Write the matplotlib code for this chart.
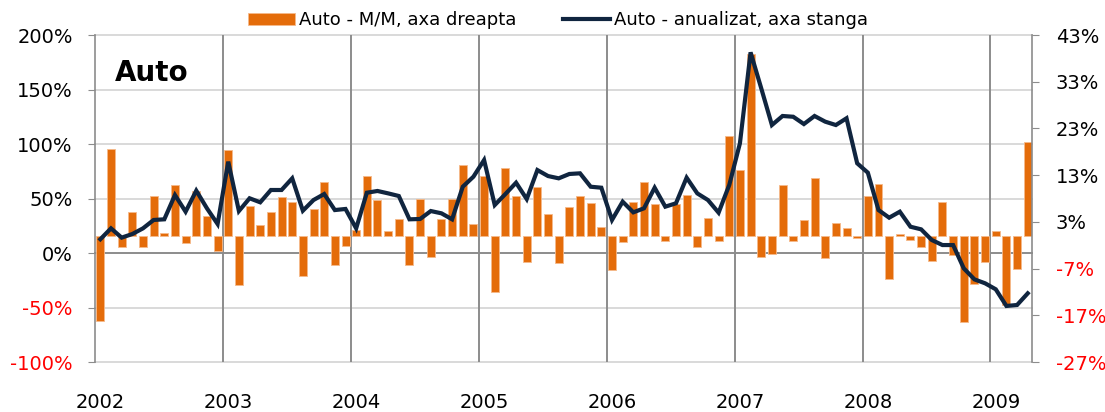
import numpy as np
import matplotlib
matplotlib.use("Agg")
import matplotlib.pyplot as plt
from matplotlib.transforms import blended_transform_factory

# monthly data, Jan 2002 - Apr 2009
years = ["2002", "2003", "2004", "2005", "2006", "2007", "2008", "2009"]

# Auto - M/M (right axis, %)
mm = [-18.3, 18.7, -2.3, 5.2, -2.3, 8.6, 0.7, 10.8, -1.6, 9.5, 4.3, -3.3,
      18.4, -10.5, 6.3, 2.4, 5.2, 8.4, 7.3, -8.5, 5.8, 11.5, -6.2, -2.1,
      1.3, 12.8, 7.6, 1.1, 3.6, -6.2, 7.9, -4.6, 3.6, 7.9, 15.2, 2.6,
      12.8, -12.1, 14.5, 8.5, -5.7, 10.4, 4.7, -5.8, 6.1, 8.6, 7.0, 1.9,
      -7.4, -1.4, 7.3, 11.5, 6.8, -1.0, 6.8, 8.7, -2.4, 3.9, -1.0, 21.4,
      14.1, 39.0, -4.6, -3.9, 10.8, -1.1, 3.4, 12.3, -4.8, 2.7, 1.6, -0.5,
      8.6, 11.0, -9.2, 0.4, -0.9, -2.3, -5.3, 7.2, -4.1, -18.5, -10.3, -5.7,
      1.1, -14.7, -7.1, 20.2]

# Auto - anualizat (left axis, %)
yoy = [12.6, 22.6, 14.1, 17.4, 22.6, 30.3, 30.9, 53.2, 37.9, 57.2, 41.0, 26.6,
       83.8, 38.5, 50.2, 46.5, 57.8, 57.8, 68.5, 38.8, 48.6, 54.1, 39.4, 40.4,
       22.6, 55.3, 56.9, 54.7, 52.3, 30.9, 31.2, 38.5, 36.4, 30.9, 60.8, 70.0,
       85.3, 44.0, 54.1, 64.5, 49.5, 76.1, 70.6, 68.5, 72.5, 73.1, 60.8, 59.9,
       30.3, 47.1, 37.3, 41.0, 59.9, 42.5, 45.6, 69.1, 54.7, 48.6, 37.0, 62.4,
       100.6, 184.1, 151.1, 117.4, 125.7, 125.0, 118.3, 125.7, 120.5, 117.4, 123.6, 82.3,
       73.7, 39.4, 32.4, 37.9, 24.1, 21.7, 11.9, 7.3, 7.3, -14.1, -24.2, -27.8,
       -33.3, -48.6, -47.7, -37.0]

left_ticks = [-100, -50, 0, 50, 100, 150, 200]
right_ticks = [-27, -17, -7, 3, 13, 23, 33, 43]

orange = "#E46C0A"
navy = "#10253F"
grid_grey = "#D9D9D9"
dark_grey = "#8C8C8C"

x = np.arange(len(mm))

fig = plt.figure(figsize=(11.05, 4.12), dpi=100)
ax = fig.add_axes([95 / 1105, 50 / 412, 937 / 1105, 327 / 412])
axl = ax.twinx()

# bars on right axis
bars = ax.bar(x, mm, width=0.75, color=orange, edgecolor="#F5B98A",
              linewidth=0.6, zorder=2, label="Auto - M/M, axa dreapta")
ax.set_ylim(-27, 43)
ax.set_xlim(-0.5, 87.4)
ax.yaxis.tick_right()
ax.set_yticks(right_ticks)
ax.set_yticklabels([f"{t}%" for t in right_ticks])
for lab, t in zip(ax.get_yticklabels(), right_ticks):
    lab.set_color("red" if t < 0 else "black")
ax.tick_params(axis="y", length=5, color=dark_grey, pad=12, labelsize=14)

ax.set_xticks(np.arange(0, len(mm), 12))
ax.set_xticklabels(years)
ax.tick_params(axis="x", length=0, pad=22, labelsize=14)

# line on left axis
line, = axl.plot(x, yoy, color=navy, linewidth=3, zorder=3,
                 solid_joinstyle="miter", label="Auto - anualizat, axa stanga")
axl.set_ylim(-100, 200)
axl.yaxis.tick_left()
axl.set_yticks(left_ticks)
axl.set_yticklabels([f"{t}%" for t in left_ticks])
for lab, t in zip(axl.get_yticklabels(), left_ticks):
    lab.set_color("red" if t < 0 else "black")
axl.tick_params(axis="y", length=5, color=dark_grey, pad=11, labelsize=14)

# gridlines behind the bars, placed on the left-axis scale
tr = blended_transform_factory(ax.transAxes, axl.transData)
for v in left_ticks:
    ax.plot([0, 1], [v, v], transform=tr, color=dark_grey if v == 0 else grid_grey,
            linewidth=1.4, zorder=0, clip_on=False)
for k in range(1, len(years)):
    ax.axvline(12 * k - 0.5, color=dark_grey, linewidth=1.4, zorder=0.5)

for s in ["top", "bottom"]:
    ax.spines[s].set_visible(False)
for s in ["left", "right"]:
    ax.spines[s].set_color(dark_grey)
    ax.spines[s].set_linewidth(1.2)
for s in axl.spines.values():
    s.set_visible(False)

ax.text(0.021, 0.884, "Auto", transform=ax.transAxes, fontsize=20,
        fontweight="bold", ha="left", va="center")

fig.legend(handles=[bars, line], loc="center", bbox_to_anchor=(0.505, 0.951),
           ncol=2, frameon=False, fontsize=13, handlelength=2.6,
           handleheight=0.6, handletextpad=0.2, columnspacing=2.6)

fig.savefig("out.png", dpi=100)
